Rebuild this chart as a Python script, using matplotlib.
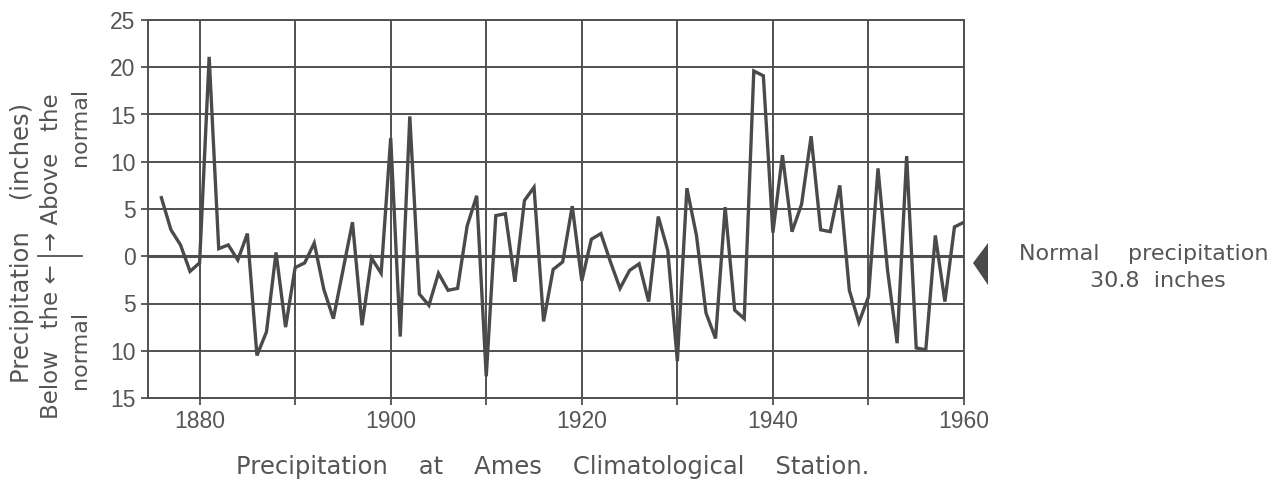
import matplotlib
matplotlib.use("Agg")
import matplotlib.pyplot as plt
from matplotlib.lines import Line2D
from matplotlib.patches import Polygon

# Annual precipitation departure from normal (inches), Ames, Iowa
years = list(range(1876, 1961))
departure = [
    6.2, 2.8, 1.2, -1.6, -0.7, 21.1, 0.8, 1.2, -0.4, 2.4,      # 1876-1885
    -10.5, -8.0, 0.4, -7.5, -1.2, -0.7, 1.4, -3.5, -6.6, -1.5,  # 1886-1895
    3.6, -7.3, -0.2, -1.8, 12.5, -8.5, 14.8, -4.0, -5.2, -1.8,  # 1896-1905
    -3.6, -3.4, 3.2, 6.4, -12.7, 4.3, 4.5, -2.7, 5.9, 7.3,      # 1906-1915
    -6.9, -1.4, -0.6, 5.3, -2.6, 1.8, 2.4, -0.6, -3.4, -1.5,    # 1916-1925
    -0.8, -4.8, 4.2, 0.6, -11.1, 7.2, 2.2, -6.0, -8.7, 5.2,     # 1926-1935
    -5.7, -6.6, 19.6, 19.1, 2.5, 10.7, 2.6, 5.5, 12.7, 2.8,     # 1936-1945
    2.6, 7.5, -3.6, -7.0, -4.3, 9.3, -1.5, -9.2, 10.6, -9.7,    # 1946-1955
    -9.9, 2.2, -4.8, 3.1, 3.6,                                  # 1956-1960
]

y_ticks = [25, 20, 15, 10, 5, 0, -5, -10, -15]
x_grid = [1880, 1890, 1900, 1910, 1920, 1930, 1940, 1950, 1960]
x_labels = [1880, 1900, 1920, 1940, 1960]
normal_line1 = "Normal    precipitation"
normal_line2 = "30.8  inches"
caption = "Precipitation    at    Ames    Climatological    Station."

ink = "#505050"
text_col = "#555555"
caption_font = ["DejaVu Sans"]
plt.rcParams["font.family"] = ["Liberation Sans", "DejaVu Sans"]

W, H = 1282, 480
fig = plt.figure(figsize=(W / 100, H / 100), dpi=100)
fig.patch.set_facecolor("white")

left, right, top, bottom = 148, 964, 20, 398
ax = fig.add_axes([left / W, 1 - bottom / H, (right - left) / W, (bottom - top) / H])
ax.set_xlim(1874.6, 1960)
ax.set_ylim(-15, 25)

# grid
for yv in y_ticks:
    ax.axhline(yv, color=ink, lw=2.2 if yv == 0 else 1.4, zorder=1)
for xv in x_grid:
    ax.axvline(xv, color=ink, lw=1.4, zorder=1)

ax.plot(years, departure, color="#4a4a4a", lw=2.4, solid_joinstyle="miter", zorder=3)

for s in ax.spines.values():
    s.set_color(ink)
    s.set_linewidth(1.4)

ax.set_yticks(y_ticks)
ax.set_yticklabels([str(abs(v)) for v in y_ticks])
ax.set_xticks(x_grid)
ax.set_xticklabels([str(v) if v in x_labels else "" for v in x_grid])
ax.tick_params(axis="both", colors=ink, labelcolor=text_col, labelsize=16.5,
               length=5, width=1.3, direction="out", pad=4)

# normal marker and note on the right
tri = Polygon([[973 / W, 1 - 263 / H], [988 / W, 1 - 243 / H], [988 / W, 1 - 285 / H]],
              closed=True, transform=fig.transFigure, facecolor="#4a4a4a", edgecolor="none")
fig.patches.append(tri)
fig.text(1144 / W, 1 - 254 / H, normal_line1, ha="center", va="center",
         fontsize=16, color=text_col, family=caption_font)
fig.text(1158 / W, 1 - 281 / H, normal_line2, ha="center", va="center",
         fontsize=16, color=text_col, family=caption_font)

# vertical axis caption
fig.text(22 / W, 1 - 243 / H, "Precipitation    (inches)", rotation=90,
         ha="center", va="center", fontsize=17.5, color=text_col, family=caption_font)
fig.text(52 / W, 1 - 419 / H, "Below   the \u2190", rotation=90,
         ha="center", va="bottom", fontsize=16.5, color=text_col, family=caption_font)
fig.text(52 / W, 1 - 251 / H, "\u2192 Above   the", rotation=90,
         ha="center", va="bottom", fontsize=16.5, color=text_col, family=caption_font)
fig.text(80 / W, 1 - 350 / H, "normal", rotation=90,
         ha="center", va="center", fontsize=16, color=text_col, family=caption_font)
fig.text(80 / W, 1 - 127 / H, "normal", rotation=90,
         ha="center", va="center", fontsize=16, color=text_col, family=caption_font)
fig.add_artist(Line2D([38 / W, 82 / W], [1 - 256 / H, 1 - 256 / H],
                      transform=fig.transFigure, color=ink, lw=1.3))

# caption below
fig.text(553 / W, 1 - 467 / H, caption, ha="center", va="center",
         fontsize=17.5, color=text_col, family=caption_font)

fig.savefig("out.png", dpi=100, facecolor="white")
